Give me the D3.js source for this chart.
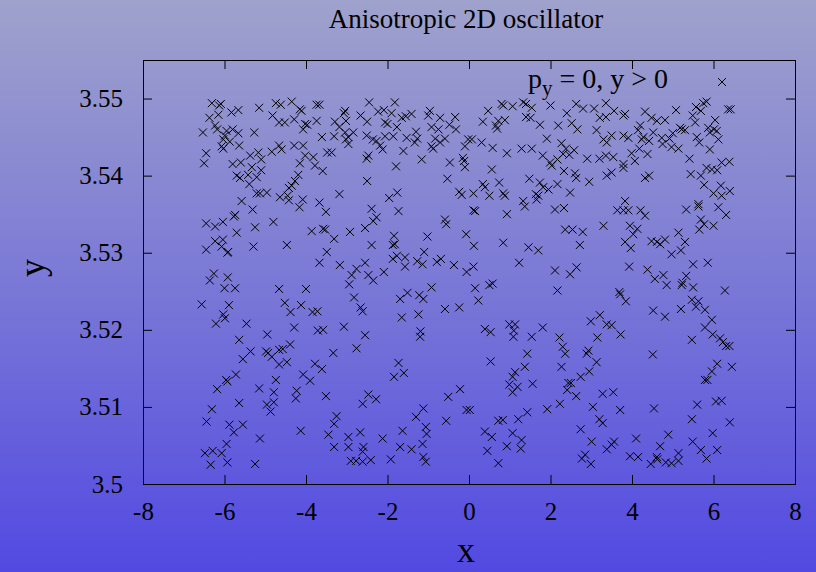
<!DOCTYPE html>
<html><head><meta charset="utf-8">
<script src="https://cdn.jsdelivr.net/npm/d3@7"></script>
<style>body{margin:0;background:#fff}svg{display:block}</style>
</head><body>
<script>
const titleText = "Anisotropic 2D oscillator";
const xLabel = "x";
const yLabel = "y";
const xTicks = [-8,-6,-4,-2,0,2,4,6,8];
const yTicks = [3.5,3.51,3.52,3.53,3.54,3.55];
const xDomain = [-8, 8];
const yDomain = [3.5, 3.555];
const legendMain = "p";
const legendSub = "y";
const legendRest = " = 0, y > 0";

const points = [
[-6.31,3.5494],[-6.13,3.5491],[-6.09,3.5493],[-6.37,3.5475],[-6.15,3.5479],[-5.83,3.5482],[-5.66,3.5485],[-5.15,3.5488],[-4.74,3.5494],[-4.62,3.5492],[-4.35,3.5496],[-4.15,3.5486],[-4.11,3.5484],[-3.74,3.5492],[-3.67,3.5492],[-4.82,3.5478],[-4.66,3.5469],[-4.52,3.5469],[-4.29,3.5473],[-4.02,3.5467],[-3.97,3.5466],[-4.07,3.5460],[-3.74,3.5471],[-6.53,3.5456],[-6.23,3.5465],[-6.18,3.5460],[-5.95,3.5458],[-5.80,3.5460],[-5.99,3.5452],[-5.66,3.5455],[-5.27,3.5456],[-6.03,3.5447],[-5.87,3.5444],[-5.64,3.5439],[-6.07,3.5438],[-6.03,3.5435],[-3.61,3.5450],[-6.45,3.5429],[-6.50,3.5416],[-5.37,3.5426],[-5.17,3.5430],[-4.84,3.5431],[-4.66,3.5439],[-4.60,3.5434],[-4.29,3.5439],[-4.07,3.5439],[-4.02,3.5426],[-3.82,3.5424],[-4.15,3.5416],[-3.78,3.5413],[-3.59,3.5406],[-3.48,3.5430],[-5.80,3.5415],[-5.60,3.5417],[-5.10,3.5421],[-5.33,3.5411],[-5.10,3.5407],[-5.70,3.5400],[-5.62,3.5397],[-5.42,3.5401],[-5.21,3.5398],[-5.39,3.5389],[-4.19,3.5401],[-4.27,3.5393],[-4.35,3.5387],[-4.42,3.5384],[-5.21,3.5377],[-5.13,3.5377],[-4.96,3.5378],[-4.64,3.5372],[-4.45,3.5374],[-4.42,3.5368],[-5.58,3.5367],[-4.08,3.5369],[-3.67,3.5365],
[-2.45,3.5495],[-1.82,3.5495],[-3.04,3.5484],[-3.07,3.5481],[-2.66,3.5478],[-2.23,3.5483],[-2.09,3.5485],[-1.90,3.5481],[-1.65,3.5475],[-1.55,3.5477],[-1.41,3.5480],[-0.96,3.5484],[-1.00,3.5478],[-0.71,3.5475],[-0.34,3.5476],[-0.48,3.5466],[-0.32,3.5460],[-3.29,3.5470],[-3.18,3.5463],[-3.02,3.5471],[-2.50,3.5470],[-2.06,3.5469],[-2.00,3.5467],[-1.77,3.5463],[-0.92,3.5463],[-0.75,3.5460],[-3.31,3.5451],[-3.04,3.5456],[-2.84,3.5456],[-2.96,3.5450],[-3.02,3.5447],[-2.96,3.5441],[-2.51,3.5452],[-2.36,3.5447],[-2.27,3.5445],[-2.06,3.5451],[-1.86,3.5451],[-1.53,3.5449],[-1.30,3.5457],[-1.27,3.5448],[-1.33,3.5443],[-0.83,3.5448],[-0.59,3.5448],[-0.71,3.5443],[-0.92,3.5438],[-0.88,3.5435],[-2.18,3.5439],[-2.12,3.5434],[-1.61,3.5432],[-0.10,3.5438],[-0.02,3.5447],[-3.37,3.5430],[-2.47,3.5426],[-2.51,3.5422],[-1.16,3.5421],[-1.79,3.5412],[-0.47,3.5417],[-0.15,3.5423],[-0.12,3.5419],[-0.10,3.5411],[-2.50,3.5393],[-0.53,3.5396],[-3.18,3.5376],[-1.96,3.5371],[-1.76,3.5378],[-0.24,3.5379],[-0.18,3.5375],
[0.80,3.5493],[0.84,3.5491],[1.07,3.5490],[1.33,3.5495],[1.40,3.5493],[1.54,3.5488],[2.00,3.5491],[2.63,3.5493],[2.80,3.5487],[3.07,3.5487],[3.36,3.5494],[0.47,3.5484],[0.34,3.5470],[0.72,3.5471],[0.88,3.5472],[0.66,3.5465],[0.69,3.5461],[1.40,3.5476],[1.51,3.5475],[1.74,3.5466],[2.19,3.5465],[2.40,3.5481],[2.52,3.5468],[2.66,3.5460],[3.13,3.5459],[3.21,3.5475],[3.36,3.5476],[3.30,3.5447],[3.38,3.5443],[0.07,3.5447],[0.31,3.5443],[0.58,3.5436],[0.93,3.5429],[1.29,3.5435],[1.54,3.5435],[1.91,3.5448],[1.81,3.5426],[1.99,3.5417],[2.03,3.5413],[2.17,3.5421],[2.27,3.5442],[2.38,3.5435],[2.31,3.5428],[2.46,3.5427],[2.58,3.5433],[2.90,3.5422],[3.20,3.5422],[3.36,3.5426],[0.56,3.5408],[1.48,3.5396],[1.74,3.5391],[1.82,3.5385],[1.95,3.5382],[2.17,3.5389],[2.33,3.5406],[2.60,3.5403],[2.63,3.5397],[2.95,3.5392],[3.38,3.5400],[0.34,3.5389],[0.39,3.5385],[0.74,3.5391],[0.11,3.5377],[0.50,3.5374],[0.84,3.5377],[0.88,3.5374],[1.64,3.5376],[1.70,3.5374],[1.66,3.5369],[1.33,3.5367],[2.48,3.5378],
[3.56,3.5484],[3.83,3.5480],[3.79,3.5478],[4.32,3.5483],[4.48,3.5475],[4.61,3.5471],[4.81,3.5472],[5.08,3.5485],[5.57,3.5489],[5.75,3.5494],[5.83,3.5496],[5.69,3.5484],[5.49,3.5478],[6.36,3.5486],[6.42,3.5486],[5.55,3.5469],[6.04,3.5472],[5.87,3.5462],[6.01,3.5460],[6.08,3.5458],[5.91,3.5456],[3.50,3.5452],[3.79,3.5452],[3.91,3.5449],[4.20,3.5465],[4.15,3.5459],[4.28,3.5450],[4.24,3.5447],[4.42,3.5445],[4.52,3.5456],[4.73,3.5449],[4.75,3.5441],[4.92,3.5448],[5.00,3.5455],[5.18,3.5462],[5.22,3.5460],[5.30,3.5459],[5.59,3.5450],[5.65,3.5443],[6.12,3.5447],[5.91,3.5434],[4.97,3.5437],[5.14,3.5435],[3.54,3.5424],[3.79,3.5415],[3.79,3.5410],[3.99,3.5429],[4.07,3.5419],[4.18,3.5435],[4.38,3.5428],[5.41,3.5422],[5.44,3.5402],[5.69,3.5400],[5.83,3.5410],[5.96,3.5408],[6.09,3.5407],[6.20,3.5417],[6.39,3.5418],[4.32,3.5397],[4.42,3.5400],[3.50,3.5404],[5.77,3.5388],[6.00,3.5377],[6.18,3.5387],[6.20,3.5374],[6.40,3.5380],[3.83,3.5367],[5.63,3.5363],
[-5.74,3.5349],[-5.77,3.5347],[-5.31,3.5356],[-4.16,3.5359],[-3.51,3.5353],[-6.45,3.5338],[-6.23,3.5334],[-6.04,3.5340],[-5.70,3.5326],[-5.25,3.5333],[-4.80,3.5340],[-3.86,3.5328],[-3.58,3.5331],[-3.53,3.5330],[-6.45,3.5304],[-6.23,3.5315],[-6.04,3.5317],[-6.07,3.5308],[-5.93,3.5300],[-5.91,3.5301],[-5.29,3.5308],[-4.47,3.5310],[-3.67,3.5287],[-3.49,3.5301],[-6.26,3.5273],[-6.36,3.5264],[-5.92,3.5268],[-6.00,3.5254],[-5.74,3.5254],[-4.66,3.5253],[-4.00,3.5253],[-6.56,3.5233],[-5.89,3.5232],[-6.03,3.5220],[-5.99,3.5215],[-6.21,3.5208],[-5.46,3.5208],[-4.52,3.5235],[-4.38,3.5223],[-4.12,3.5232],[-3.84,3.5223],[-3.72,3.5224],[-4.29,3.5203],[-3.71,3.5199],[-3.58,3.5200],[-4.95,3.5194],[-5.64,3.5187],
[-2.39,3.5357],[-2.27,3.5346],[-2.35,3.5341],[-2.55,3.5332],[-1.73,3.5354],[-0.59,3.5343],[-0.56,3.5337],[-2.92,3.5327],[-3.31,3.5318],[-2.39,3.5310],[-1.84,3.5322],[-1.87,3.5310],[-1.82,3.5311],[-1.02,3.5321],[-0.07,3.5324],[-3.17,3.5284],[-2.76,3.5279],[-2.88,3.5271],[-2.94,3.5259],[-2.55,3.5287],[-2.47,3.5271],[-2.35,3.5264],[-2.09,3.5275],[-1.87,3.5292],[-1.77,3.5296],[-1.57,3.5294],[-1.57,3.5282],[-1.27,3.5289],[-1.14,3.5285],[-1.10,3.5301],[-0.79,3.5288],[-0.69,3.5292],[-0.37,3.5284],[-0.06,3.5275],[-2.82,3.5242],[-2.66,3.5229],[-2.61,3.5224],[-1.69,3.5240],[-1.51,3.5248],[-1.22,3.5245],[-1.12,3.5240],[-0.92,3.5255],[-1.65,3.5216],[-1.24,3.5220],[-0.59,3.5227],[-0.24,3.5229],[-3.07,3.5204],[-2.55,3.5193],[-1.19,3.5198],[-1.20,3.5191],
[0.11,3.5355],[0.15,3.5354],[0.93,3.5350],[1.37,3.5360],[2.11,3.5356],[2.33,3.5358],[3.30,3.5335],[2.36,3.5330],[2.54,3.5330],[2.79,3.5327],[0.12,3.5309],[0.84,3.5313],[1.46,3.5307],[1.70,3.5303],[2.72,3.5310],[1.23,3.5287],[0.11,3.5282],[2.11,3.5277],[2.64,3.5281],[2.48,3.5272],[0.15,3.5254],[0.50,3.5258],[0.58,3.5260],[0.23,3.5238],[2.17,3.5251],[3.21,3.5219],[2.99,3.5211],[3.38,3.5207],[0.39,3.5201],[0.53,3.5197],[0.99,3.5207],[1.13,3.5207],[1.10,3.5199],[1.09,3.5191],[1.81,3.5203],[1.54,3.5191],[2.22,3.5190],[3.15,3.5190],
[3.64,3.5355],[3.79,3.5355],[3.91,3.5355],[4.21,3.5355],[4.32,3.5348],[5.33,3.5356],[5.63,3.5360],[6.12,3.5359],[6.31,3.5349],[3.95,3.5335],[4.13,3.5331],[4.03,3.5324],[5.69,3.5343],[5.77,3.5337],[5.65,3.5330],[6.00,3.5335],[5.14,3.5326],[5.30,3.5314],[3.83,3.5314],[3.97,3.5306],[4.48,3.5315],[4.61,3.5314],[4.69,3.5311],[4.81,3.5317],[4.97,3.5298],[5.20,3.5303],[3.93,3.5282],[4.38,3.5278],[4.56,3.5266],[4.77,3.5271],[4.85,3.5258],[5.33,3.5270],[5.22,3.5258],[5.24,3.5261],[5.50,3.5285],[5.86,3.5287],[5.50,3.5255],[6.28,3.5251],[3.69,3.5249],[3.71,3.5246],[3.85,3.5237],[5.47,3.5239],[5.63,3.5237],[5.57,3.5230],[5.79,3.5226],[4.52,3.5225],[4.81,3.5217],[5.20,3.5227],[5.96,3.5213],[5.79,3.5203],[3.50,3.5206],[3.72,3.5194],[5.98,3.5194],[5.47,3.5187],[6.16,3.5189],
[-5.36,3.5172],[-5.55,3.5162],[-4.98,3.5172],[-4.93,3.5170],[-4.84,3.5165],[-4.66,3.5174],[-4.57,3.5175],[-4.39,3.5181],[-4.66,3.5155],[-4.47,3.5158],[-3.78,3.5156],[-3.61,3.5149],[-5.96,3.5135],[-5.93,3.5133],[-5.72,3.5142],[-6.18,3.5123],[-4.74,3.5135],[-4.07,3.5142],[-3.90,3.5134],[-5.15,3.5124],[-4.79,3.5119],[-4.23,3.5121],[-4.25,3.5111],[-3.51,3.5114],[-6.31,3.5097],[-5.64,3.5105],[-4.96,3.5103],[-4.79,3.5106],[-4.87,3.5094],[-6.44,3.5081],[-5.88,3.5077],[-5.77,3.5067],[-5.55,3.5077],[-5.13,3.5059],[-4.13,3.5069],[-3.45,3.5064],[-5.95,3.5052],[-6.48,3.5040],[-6.29,3.5043],[-6.07,3.5040],[-6.34,3.5025],[-5.93,3.5028],[-5.25,3.5026],
[-2.76,3.5176],[-3.33,3.5170],[-1.73,3.5157],[-1.84,3.5139],[-1.60,3.5144],[-2.47,3.5116],[-2.28,3.5110],[-2.61,3.5104],[-3.25,3.5088],[-3.31,3.5078],[-2.67,3.5067],[-2.96,3.5061],[-2.12,3.5059],[-1.63,3.5069],[-1.12,3.5098],[-1.30,3.5087],[-1.06,3.5074],[-1.04,3.5065],[-0.56,3.5082],[-0.51,3.5113],[-0.22,3.5123],[-0.06,3.5096],[-3.31,3.5048],[-2.96,3.5048],[-2.59,3.5048],[-2.61,3.5042],[-1.69,3.5048],[-1.41,3.5045],[-1.14,3.5052],[-2.90,3.5030],[-2.77,3.5030],[-2.61,3.5029],[-2.41,3.5031],[-1.92,3.5032],[-1.12,3.5035],[-1.06,3.5029],
[1.43,3.5169],[0.53,3.5159],[2.30,3.5178],[2.36,3.5169],[2.93,3.5173],[2.89,3.5169],[3.13,3.5158],[1.37,3.5152],[1.13,3.5145],[1.07,3.5139],[0.99,3.5129],[1.19,3.5126],[1.07,3.5119],[1.56,3.5130],[2.27,3.5152],[2.95,3.5146],[2.74,3.5139],[2.44,3.5131],[2.50,3.5131],[2.41,3.5122],[2.63,3.5114],[3.28,3.5117],[0.02,3.5096],[0.72,3.5082],[0.83,3.5083],[1.21,3.5084],[1.43,3.5093],[1.92,3.5097],[2.23,3.5104],[3.04,3.5100],[3.20,3.5084],[3.28,3.5079],[0.39,3.5068],[0.56,3.5061],[1.07,3.5066],[1.29,3.5057],[1.27,3.5046],[0.93,3.5049],[0.45,3.5043],[0.72,3.5027],[2.74,3.5071],[3.01,3.5055],[3.38,3.5045],[2.77,3.5033],[2.85,3.5038],[2.99,3.5026],
[6.23,3.5184],[6.31,3.5179],[6.39,3.5179],[4.51,3.5168],[6.09,3.5156],[5.96,3.5146],[6.45,3.5152],[5.79,3.5135],[5.85,3.5135],[3.54,3.5119],[3.71,3.5096],[4.54,3.5098],[5.60,3.5103],[6.06,3.5107],[6.20,3.5108],[5.47,3.5084],[6.40,3.5080],[3.56,3.5055],[3.50,3.5051],[4.10,3.5059],[4.89,3.5064],[4.69,3.5049],[5.49,3.5055],[5.98,3.5066],[5.69,3.5044],[6.09,3.5044],[5.83,3.5033],[3.95,3.5036],[4.15,3.5035],[4.61,3.5035],[4.62,3.5032],[4.46,3.5026],[4.83,3.5028],[4.97,3.5027],[5.14,3.5040],[5.14,3.5030]
];

const W = 816, H = 572;
const margin = {left: 143, right: 21, top: 60, bottom: 88};
const iw = W - margin.left - margin.right;
const ih = H - margin.top - margin.bottom;
const font = "'Liberation Serif','Times New Roman',serif";

const svg = d3.select("body").append("svg").attr("width", W).attr("height", H);
const defs = svg.append("defs");
const grad = defs.append("linearGradient").attr("id","bg").attr("x1",0).attr("y1",0).attr("x2",0).attr("y2",1);
grad.append("stop").attr("offset","0%").attr("stop-color","#9fa2cc");
grad.append("stop").attr("offset","50%").attr("stop-color","#7a78d6");
grad.append("stop").attr("offset","100%").attr("stop-color","#5249e2");
svg.append("rect").attr("width",W).attr("height",H).attr("fill","url(#bg)");

const x = d3.scaleLinear().domain(xDomain).range([margin.left, margin.left + iw]);
const y = d3.scaleLinear().domain(yDomain).range([margin.top + ih, margin.top]);

const tickLen = 9;
const fmtX = d => String(d);
const fmtY = d => (d === 3.5 ? "3.5" : d3.format(".2f")(d));

const gx = svg.append("g").attr("transform", `translate(0,${margin.top+ih})`)
  .call(d3.axisBottom(x).tickValues(xTicks).tickFormat(fmtX).tickSizeInner(-tickLen).tickSizeOuter(0).tickPadding(18));
const gxt = svg.append("g").attr("transform", `translate(0,${margin.top})`)
  .call(d3.axisTop(x).tickValues(xTicks).tickFormat("").tickSizeInner(-tickLen).tickSizeOuter(0));
const gy = svg.append("g").attr("transform", `translate(${margin.left},0)`)
  .call(d3.axisLeft(y).tickValues(yTicks).tickFormat(fmtY).tickSizeInner(-tickLen).tickSizeOuter(0).tickPadding(20));
const gyr = svg.append("g").attr("transform", `translate(${margin.left+iw},0)`)
  .call(d3.axisRight(y).tickValues(yTicks).tickFormat("").tickSizeInner(-tickLen).tickSizeOuter(0));

[gx,gxt,gy,gyr].forEach(g => {
  g.select(".domain").remove();
  g.selectAll(".tick line").attr("stroke","#000").attr("stroke-width",1);
  g.selectAll("text").attr("fill","#000").style("font-family",font).style("font-size","25px");
});
gx.selectAll("text").attr("dy","0.71em");
gy.selectAll("text").attr("dy","0.32em");

svg.append("rect").attr("x",margin.left+0.5).attr("y",margin.top+0.5).attr("width",iw).attr("height",ih)
  .attr("fill","none").attr("stroke","#000").attr("stroke-width",1);

svg.append("text").attr("x", 466).attr("y", 28).attr("text-anchor","middle")
  .style("font-family",font).style("font-size","27px").attr("fill","#000").text(titleText);

svg.append("text").attr("x", 466).attr("y", 562).attr("text-anchor","middle")
  .style("font-family",font).style("font-size","36px").attr("fill","#000").text(xLabel);
svg.append("text").attr("transform","translate(44,268) rotate(-90)").attr("text-anchor","middle")
  .style("font-family",font).style("font-size","36px").attr("fill","#000").text(yLabel);

const s = 4;
const cross = (sel) => sel.attr("d", d => {
  const px = x(d[0]), py = y(d[1]);
  return `M${px-s},${py-s}L${px+s},${py+s}M${px-s},${py+s}L${px+s},${py-s}`;
});
svg.append("g").attr("stroke","#000").attr("stroke-width",1).attr("fill","none")
  .selectAll("path").data(points).join("path").call(cross);

const lg = svg.append("text").attr("x", 668).attr("y", 88).attr("text-anchor","end")
  .style("font-family",font).style("font-size","28px").attr("fill","#000");
lg.append("tspan").text(legendMain);
lg.append("tspan").attr("dy",7).style("font-size","21px").text(legendSub);
lg.append("tspan").attr("dy",-7).text(legendRest);
const lx = 722, ly = 82;
svg.append("path").attr("stroke","#000").attr("stroke-width",1).attr("fill","none")
  .attr("d", `M${lx-s},${ly-s}L${lx+s},${ly+s}M${lx-s},${ly+s}L${lx+s},${ly-s}`);
</script>
</body></html>
